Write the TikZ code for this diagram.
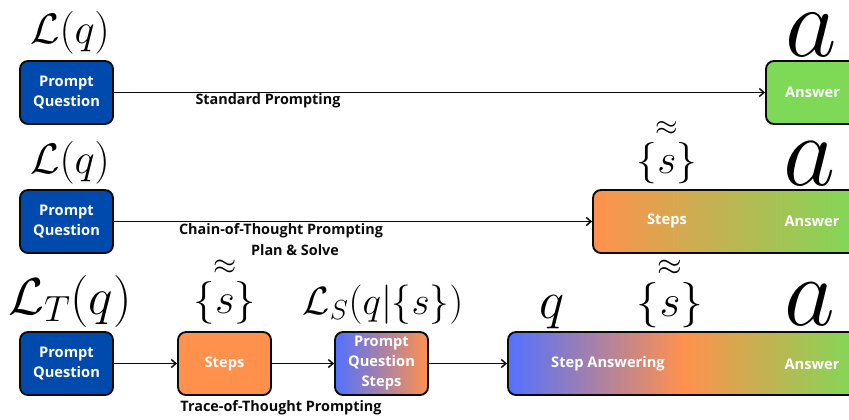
\RequirePackage{fix-cm}
\documentclass[tikz,border=0pt]{standalone}
\usepackage{amsmath}
\usepackage[no-math]{fontspec}
\newfontfamily\canva{Open Sans}
\usetikzlibrary{arrows.meta}
\definecolor{deepblue}{HTML}{004AAD}
\definecolor{softblue}{HTML}{5271FF}
\definecolor{warm}{HTML}{FF914D}
\definecolor{leaf}{HTML}{7ED957}
\definecolor{ink}{HTML}{0B0B0B}
\tikzset{
  >={Straight Barb[length=3.5pt,width=6pt]},
  box/.style={draw=ink, line width=1.4pt, rounded corners=6pt, inner sep=0pt,
    minimum width=69.75pt, minimum height=47.25pt, text=white, align=center,
    font=\canva\bfseries\fontsize{11}{15}\selectfont},
  inlab/.style={text=white, inner sep=0pt, font=\canva\bfseries\fontsize{11}{15}\selectfont},
  caption/.style={text=ink, inner sep=0pt, align=center, font=\canva\bfseries\fontsize{10.8}{14}\selectfont},
  flow/.style={->, ink, line width=1.1pt},
  sym/.style={inner sep=0pt, anchor=base},
}
\newcommand{\fs}[1]{\fontsize{#1}{#1}\selectfont}

\begin{document}
\begin{tikzpicture}[x=0.75pt, y=-0.75pt]

\clip (0,0) rectangle (849,419);

% ---------------- standard prompting ----------------
\node[box, fill=deepblue] (pq1) at (66.5,92.5) {Prompt\\Question};
\node[box, fill=leaf] (ans1) at (812.5,92.5) {Answer};
\draw[flow] (pq1) -- (ans1);
\node[caption] (std) at (268,101) {Standard Prompting};
\node[sym, font=\fs{32}] (lq1) at (70,43) {$\mathcal{L}(q)$};
\node[sym, font=\fs{75}] (a1) at (811,56) {$a$};

% ---------------- chain-of-thought ----------------
\node[box, fill=deepblue] (pq2) at (66.5,221.5) {Prompt\\Question};
\node[box, minimum width=199.5pt, left color=warm, right color=leaf] (cot) at (726,221.5) {};
\node[inlab] (cotsteps) at (667,221) {Steps};
\node[inlab] (cotans) at (812,221) {Answer};
\draw[flow] (pq2) -- (cot);
\node[caption] (cotcap) at (281,231) {Chain-of-Thought Prompting};
\node[caption] (pscap) at (295,250) {Plan \& Solve};
\node[sym, font=\fs{32}] (lq2) at (70,173) {$\mathcal{L}(q)$};
\node[sym, font=\fs{31}] (s2) at (667,173) {$\overset{\approx}{\{s\}}$};
\node[sym, font=\fs{76}] (a2) at (810,185) {$a$};

% ---------------- trace-of-thought ----------------
\node[box, fill=deepblue] (pq3) at (66.5,363.5) {Prompt\\Question};
\node[box, fill=warm] (steps3) at (224.5,363.5) {Steps};
\node[box, left color=softblue, right color=warm] (pqs3) at (381.5,363.5) {Prompt\\Question\\Steps};
\node[box, minimum width=263.25pt, left color=softblue, right color=leaf, middle color=warm] (big3) at (683.5,363.5) {};
\node[inlab] (sa3) at (608,364) {Step Answering};
\node[inlab] (ans3) at (812,364) {Answer};
\draw[flow] (pq3) -- (steps3);
\draw[flow] (steps3) -- (pqs3);
\draw[flow] (pqs3) -- (big3);
\node[caption] (totcap) at (281,408) {Trace-of-Thought Prompting};
\node[sym, font=\fs{39}] (lq3) at (70,314) {$\mathcal{L}_T(q)$};
\node[sym, font=\fs{32}] (s3) at (225,313) {$\overset{\approx}{\{s\}}$};
\node[sym, font=\fs{29.5}] (ls3) at (383,314) {$\mathcal{L}_S(q|\{s\})$};
\node[sym, font=\fs{40}] (q3) at (552,318) {$q$};
\node[sym, font=\fs{34}] (s3b) at (670,316) {$\overset{\approx}{\{s\}}$};
\node[sym, font=\fs{74}] (a3) at (810,325) {$a$};

\end{tikzpicture}
\end{document}
